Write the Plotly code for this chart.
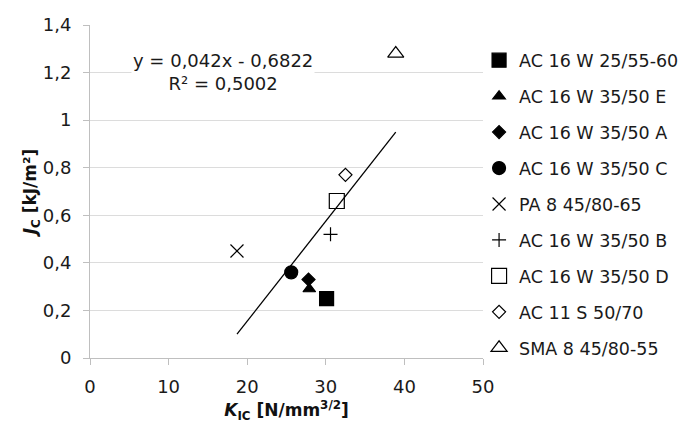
import plotly.graph_objects as go

names = ["AC 16 W 25/55-60", "AC 16 W 35/50 E", "AC 16 W 35/50 A", "AC 16 W 35/50 C",
         "PA 8 45/80-65", "AC 16 W 35/50 B", "AC 16 W 35/50 D", "AC 11 S 50/70", "SMA 8 45/80-55"]
k_ic = [30.1, 27.9, 27.8, 25.6, 18.7, 30.6, 31.4, 32.5, 38.9]
j_c = [0.25, 0.29, 0.33, 0.36, 0.45, 0.52, 0.66, 0.77, 1.28]
symbols = ["square", "triangle-up", "diamond", "circle", "x-thin-open", "cross-thin-open",
           "square-open", "diamond-open", "triangle-up-open"]
sizes = [14, 11, 10, 13, 13, 10, 15, 10, 14]

trend_x = [18.7, 38.9]
trend_y = [0.10, 0.95]
eq_text = "y = 0,042x - 0,6822<br>R² = 0,5002"

x_ticks = [0, 10, 20, 30, 40, 50]
y_ticks = [0, 0.2, 0.4, 0.6, 0.8, 1.0, 1.2, 1.4]

FONT = "DejaVu Sans, Liberation Sans, Arial, sans-serif"

fig = go.Figure()
fig.add_trace(go.Scatter(x=trend_x, y=trend_y, mode="lines", line=dict(color="black", width=1.3),
                         showlegend=False, hoverinfo="skip"))
for i, n in enumerate(names):
    fig.add_trace(go.Scatter(
        x=[k_ic[i]], y=[j_c[i]], mode="markers", name=n, legendgroup=n,
        marker=dict(symbol=symbols[i], size=sizes[i], color="black",
                    line=dict(color="black", width=1.2))))

fig.add_annotation(x=0.338, y=1.204, xref="paper", yref="y", text=eq_text, showarrow=False,
                   font=dict(size=18, color="#1a1a1a"), bgcolor="white", align="center")

fig.update_layout(
    width=688, height=424,
    margin=dict(l=82, r=213, t=17, b=74, autoexpand=False),
    paper_bgcolor="white", plot_bgcolor="white",
    separators=", ",
    font=dict(family=FONT, size=18, color="#1a1a1a"),
    legend=dict(x=0.99, y=0.948, xanchor="left", yanchor="top", tracegroupgap=10.2,
                font=dict(size=17.5, color="#1a1a1a"), bgcolor="rgba(0,0,0,0)",
                itemsizing="trace"),
    xaxis=dict(range=[0, 50], tickvals=x_ticks, showgrid=False, showline=True, automargin=False,
               linecolor="#bfbfbf", linewidth=1, ticks="outside", ticklen=6, tickcolor="#bfbfbf",
               zeroline=False, ticklabelstandoff=6, tickfont=dict(size=18),
               title=dict(text="<b><i>K</i><sub>IC</sub> [N/mm<sup>3/2</sup>]</b>", standoff=8,
                          font=dict(size=17, color="#111"))),
    yaxis=dict(range=[0, 1.4], tickvals=y_ticks, showgrid=True, gridcolor="#dcdcdc",
               showline=True, linecolor="#bfbfbf", linewidth=1, ticks="outside", ticklen=6,
               automargin=False,
               tickcolor="#bfbfbf", zeroline=False, ticklabelstandoff=8, tickfont=dict(size=18),
               title=dict(text="<b><i>J</i><sub>C</sub> [kJ/m²]</b>", standoff=0,
                          font=dict(size=17, color="#111"))),
)

fig.write_html("out.html")
